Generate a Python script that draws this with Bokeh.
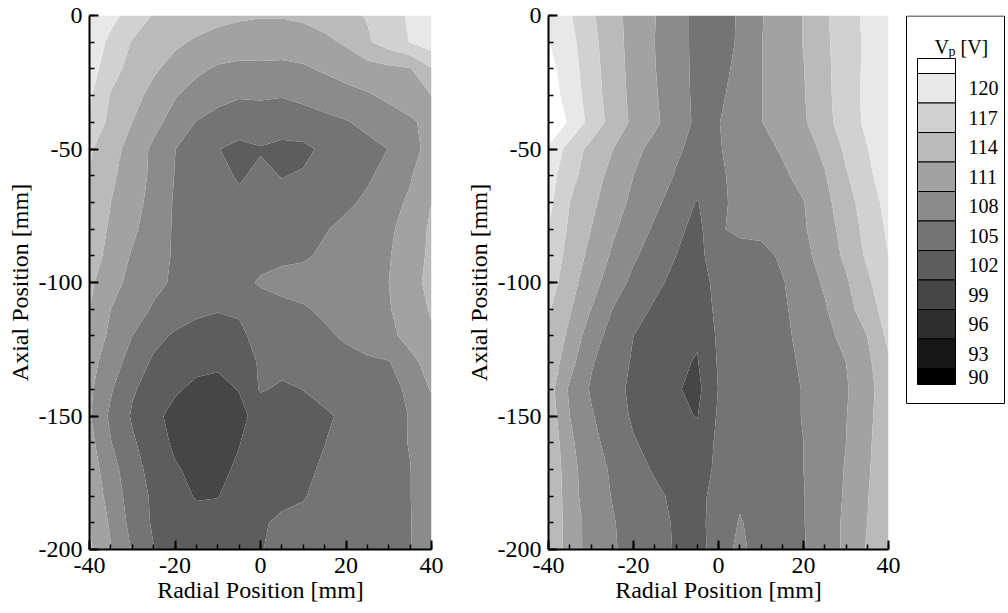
import numpy as np
from bokeh.plotting import figure
from bokeh.layouts import row
from bokeh.models import FixedTicker, Range1d
from bokeh.embed import file_html
from bokeh.resources import INLINE
from bokeh.core.properties import value

# ---------------- data ----------------
radial = [-40, -35, -30, -25, -20, -15, -10, -5, 0, 5, 10, 15, 20, 25, 30, 35, 40]
axial = [0, -10, -20, -30, -40, -50, -60, -70, -80, -90, -100,
         -110, -120, -130, -140, -150, -160, -170, -180, -190, -200]

vp_left = [
    [119.5, 117.9, 115.8, 113.8, 113.2, 112.5, 111.8, 111.4, 111.2, 111.2, 111.5, 112.3, 113.2, 114.2, 115.8, 117.4, 119.0],
    [119.0, 116.3, 113.8, 112.7, 111.5, 110.6, 110.0, 109.6, 109.4, 109.4, 109.7, 110.3, 111.4, 113.6, 115.4, 117.1, 118.5],
    [118.5, 115.1, 113.0, 111.4, 110.0, 108.6, 107.6, 107.3, 107.4, 107.3, 107.6, 108.4, 109.2, 109.8, 110.3, 110.8, 113.8],
    [117.4, 113.8, 112.0, 110.1, 108.2, 106.8, 105.8, 105.2, 105.3, 105.1, 105.5, 106.2, 107.0, 107.7, 108.6, 109.8, 111.0],
    [116.8, 113.0, 111.0, 108.9, 106.8, 104.9, 104.0, 103.6, 103.7, 103.9, 104.0, 104.3, 104.8, 105.7, 106.6, 107.5, 109.0],
    [114.4, 112.2, 109.8, 107.4, 105.05, 103.5, 102.1, 101.2, 101.8, 101.0, 101.3, 102.6, 103.4, 104.2, 105.05, 107.0, 109.0],
    [113.8, 111.5, 109.6, 107.3, 104.9, 103.8, 102.8, 101.7, 102.6, 101.9, 102.3, 103.0, 103.8, 104.6, 106.0, 107.7, 110.4],
    [113.2, 111.0, 109.1, 107.0, 104.7, 103.8, 103.2, 102.6, 102.8, 102.8, 103.1, 103.7, 104.5, 105.5, 106.9, 108.5, 111.0],
    [112.8, 110.6, 108.6, 106.4, 104.7, 104.0, 103.5, 103.2, 103.4, 103.6, 104.0, 104.8, 105.7, 106.6, 107.5, 109.2, 111.5],
    [112.5, 110.0, 107.7, 106.1, 104.7, 104.0, 103.6, 103.6, 104.2, 104.5, 104.6, 105.5, 106.3, 107.1, 107.8, 109.6, 111.6],
    [111.6, 109.1, 107.1, 105.7, 104.6, 104.0, 103.8, 104.2, 105.3, 105.8, 106.2, 106.6, 107.0, 107.5, 108.0, 110.0, 111.8],
    [111.0, 108.0, 106.2, 104.7, 103.6, 102.7, 102.2, 102.3, 103.8, 104.3, 104.7, 105.5, 106.2, 107.0, 107.8, 109.5, 111.3],
    [110.3, 107.3, 105.0, 102.9, 101.6, 100.8, 100.6, 101.5, 102.8, 103.5, 104.0, 104.5, 105.4, 106.4, 107.4, 108.8, 110.6],
    [109.1, 106.4, 103.8, 101.5, 100.3, 99.6, 99.4, 100.2, 102.4, 103.0, 103.5, 103.8, 104.1, 104.5, 104.8, 107.3, 109.0],
    [108.6, 105.3, 102.3, 100.9, 99.3, 98.5, 98.3, 99.1, 102.3, 101.5, 102.05, 102.9, 103.5, 104.0, 104.5, 105.3, 108.3],
    [108.3, 104.4, 101.7, 99.6, 98.3, 97.6, 97.5, 98.3, 100.0, 100.7, 101.0, 101.6, 102.5, 103.4, 104.2, 105.1, 106.5],
    [109.0, 105.1, 102.4, 100.4, 98.5, 97.8, 97.9, 98.9, 100.6, 101.0, 101.4, 101.97, 102.7, 103.5, 104.3, 105.1, 106.5],
    [109.6, 106.2, 103.1, 101.0, 99.3, 98.3, 98.4, 99.4, 100.9, 101.3, 101.7, 102.2, 102.9, 103.6, 104.3, 104.95, 106.5],
    [110.3, 106.8, 103.6, 101.5, 100.0, 98.8, 98.9, 100.2, 101.5, 101.6, 101.9, 102.5, 103.1, 103.7, 104.3, 104.95, 106.5],
    [110.8, 107.6, 104.0, 101.6, 100.6, 99.9, 100.1, 100.9, 101.8, 102.3, 102.4, 102.9, 103.4, 103.9, 104.4, 104.9, 106.5],
    [111.5, 108.1, 104.8, 102.1, 101.2, 100.6, 100.4, 100.9, 101.9, 102.6, 103.0, 103.4, 103.8, 104.2, 104.5, 104.9, 106.3],
]

vp_right = [
    [119.5, 117.3, 114.5, 112.1, 109.9, 108.1, 106.1, 104.3, 103.8, 105.3, 107.8, 109.5, 111.1, 113.6, 115.7, 117.7, 119.6],
    [120.1, 117.9, 115.0, 112.2, 110.0, 108.0, 106.1, 104.3, 103.7, 105.4, 107.9, 109.5, 111.1, 113.5, 115.4, 117.6, 119.7],
    [121.0, 118.4, 115.3, 112.4, 110.1, 108.1, 106.2, 104.3, 104.0, 105.8, 107.9, 109.4, 110.9, 113.4, 115.4, 117.7, 119.8],
    [121.5, 118.8, 115.6, 112.6, 110.2, 108.3, 106.2, 104.4, 104.4, 106.2, 107.9, 109.4, 110.8, 113.2, 115.6, 117.7, 119.8],
    [122.5, 119.6, 116.0, 112.9, 110.4, 108.6, 106.3, 104.5, 104.9, 106.4, 107.9, 109.3, 110.6, 113.0, 115.5, 117.6, 119.7],
    [119.6, 115.8, 113.1, 111.1, 108.9, 107.0, 105.4, 104.2, 104.8, 106.0, 107.1, 108.3, 109.8, 111.6, 114.6, 116.9, 119.2],
    [118.3, 115.0, 112.4, 110.1, 108.0, 106.3, 104.8, 104.0, 104.6, 105.7, 106.6, 107.5, 108.9, 110.8, 113.7, 116.3, 118.8],
    [117.8, 114.0, 111.7, 109.4, 107.3, 105.6, 103.8, 101.8, 104.5, 105.6, 106.4, 107.2, 107.9, 110.1, 112.8, 115.5, 118.0],
    [117.0, 113.5, 111.0, 108.5, 106.5, 104.6, 102.8, 101.0, 104.9, 105.2, 105.8, 106.7, 107.7, 109.6, 112.2, 115.0, 117.5],
    [116.2, 112.9, 110.2, 107.6, 105.4, 103.7, 102.0, 100.8, 104.2, 104.6, 104.0, 105.5, 107.2, 109.2, 111.6, 114.5, 117.0],
    [115.5, 112.2, 109.2, 106.5, 104.3, 102.7, 101.2, 100.5, 103.0, 103.6, 103.9, 104.8, 106.5, 108.4, 110.6, 113.4, 116.4],
    [114.3, 111.3, 108.0, 105.0, 103.2, 101.6, 100.6, 100.0, 102.8, 103.3, 103.8, 104.6, 106.0, 107.7, 110.1, 112.3, 115.7],
    [113.7, 110.3, 106.3, 104.0, 102.0, 101.0, 100.0, 99.3, 102.5, 103.1, 103.7, 104.5, 105.6, 107.1, 108.9, 111.0, 114.7],
    [113.2, 109.0, 105.3, 103.3, 101.7, 100.6, 99.5, 98.8, 102.3, 102.9, 103.6, 104.4, 105.3, 106.6, 108.0, 110.3, 113.6],
    [112.4, 107.5, 104.7, 102.8, 101.5, 100.5, 99.3, 98.2, 102.1, 102.8, 103.5, 104.3, 105.1, 106.5, 107.7, 110.0, 112.8],
    [112.9, 108.0, 105.3, 103.4, 101.6, 100.6, 99.5, 98.9, 102.4, 103.0, 103.6, 104.3, 105.1, 106.5, 107.9, 110.1, 113.3],
    [113.6, 108.6, 105.9, 103.9, 102.2, 101.2, 100.4, 100.0, 102.6, 103.1, 103.6, 104.2, 105.0, 106.5, 108.0, 110.3, 113.6],
    [114.0, 109.0, 106.4, 104.6, 103.1, 101.7, 100.8, 100.5, 102.7, 103.5, 103.7, 104.2, 105.0, 106.5, 108.2, 110.5, 113.9],
    [114.0, 109.3, 106.3, 104.9, 103.7, 102.6, 101.4, 101.0, 103.2, 104.6, 104.0, 104.3, 104.9, 106.6, 108.3, 110.8, 114.0],
    [114.0, 109.5, 106.9, 105.2, 104.0, 102.9, 101.7, 101.2, 103.2, 105.2, 104.0, 104.4, 104.9, 106.6, 108.5, 111.0, 114.0],
    [114.0, 109.4, 107.0, 105.3, 104.1, 102.9, 101.8, 101.0, 103.3, 105.8, 103.6, 104.2, 104.8, 106.6, 108.5, 111.3, 114.0],
]

levels = [80, 90, 93, 96, 99, 102, 105, 108, 111, 114, 117, 120, 130]
band_colors = ["#000000", "#171717", "#2e2e2e", "#464646", "#5d5d5d", "#747474",
               "#8b8b8b", "#a2a2a2", "#bababa", "#d1d1d1", "#e8e8e8", "#ffffff"]
legend_labels = ["120", "117", "114", "111", "108", "105", "102", "99", "96", "93", "90"]

x_major = [-40, -20, 0, 20, 40]
y_major = [0, -50, -100, -150, -200]

FONT = "Liberation Serif"
TOP, BOTTOM = 15, 64


def panel(vp, width, border_left, border_right):
    p = figure(width=width, height=613, x_range=Range1d(-40, 40), y_range=Range1d(-200, 0),
               toolbar_location=None, output_backend="svg",
               min_border_left=border_left, min_border_right=border_right,
               min_border_top=TOP, min_border_bottom=BOTTOM)
    xs = np.array(radial, dtype=float)
    ys = np.array(axial, dtype=float)[::-1]
    zs = np.array(vp, dtype=float)[::-1, :]
    p.contour(x=xs, y=ys, z=zs, levels=levels, fill_color=band_colors, line_color=None)
    p.grid.visible = False
    p.outline_line_color = None
    p.background_fill_color = "white"
    p.border_fill_color = "white"
    p.xaxis.ticker = FixedTicker(ticks=x_major, minor_ticks=list(range(-40, 41, 5)))
    p.yaxis.ticker = FixedTicker(ticks=y_major, minor_ticks=list(range(-200, 1, 10)))
    p.xaxis.major_label_overrides = {v: str(v) for v in x_major}
    p.yaxis.major_label_overrides = {v: str(v) for v in y_major}
    p.xaxis.axis_label = "Radial Position [mm]"
    p.yaxis.axis_label = "Axial Position [mm]"
    for ax in (p.xaxis[0], p.yaxis[0]):
        ax.axis_line_width = 2
        ax.axis_line_color = "black"
        ax.major_tick_in = 9
        ax.major_tick_out = 0
        ax.major_tick_line_width = 2
        ax.minor_tick_in = 5
        ax.minor_tick_out = 0
        ax.minor_tick_line_width = 1.5
        ax.major_label_text_font = FONT
        ax.major_label_text_font_size = "24px"
        ax.major_label_text_color = "black"
        ax.axis_label_text_font = FONT
        ax.axis_label_text_font_size = "24px"
        ax.axis_label_text_font_style = "normal"
        ax.axis_label_text_color = "black"
    p.xaxis.major_label_standoff = 8
    p.xaxis.axis_label_standoff = 1
    p.yaxis.major_label_standoff = 7
    p.yaxis.axis_label_standoff = 3
    return p


p1 = panel(vp_left, 462, 89, 31)
p2 = panel(vp_right, 438, 84, 12)

# ---------------- legend ----------------
p3 = figure(width=108, height=613, x_range=Range1d(900, 1008), y_range=Range1d(613 - BOTTOM, TOP),
            toolbar_location=None, output_backend="svg",
            min_border_left=0, min_border_right=0, min_border_top=TOP, min_border_bottom=BOTTOM,
            x_axis_location=None, y_axis_location=None)
p3.grid.visible = False
p3.outline_line_color = None

box_colors = band_colors[::-1]
heights = [15] + [29.5] * 10 + [16]
tops = [58.0]
for h in heights[:-1]:
    tops.append(tops[-1] + h)
bottoms = [t + h for t, h in zip(tops, heights)]
p3.quad(left=917, right=955, top=tops, bottom=bottoms, fill_color=box_colors,
        line_color="black", line_width=1)
p3.quad(left=906, right=1004, top=15.5, bottom=403, fill_color=None,
        line_color="black", line_width=1)
centers = [(t + b) / 2 for t, b in zip(tops[1:], bottoms[1:])]
p3.text(x=[968] * len(legend_labels), y=centers, text=legend_labels,
        text_baseline="middle", text_align="left",
        text_font=value(FONT), text_font_size="20px", text_color="black")
p3.text(x=[934], y=[46], text=["V"], text_baseline="alphabetic",
        text_font=value(FONT), text_font_size="20px", text_color="black")
p3.text(x=[948], y=[51], text=["p"], text_baseline="alphabetic",
        text_font=value(FONT), text_font_size="14px", text_color="black")
p3.text(x=[960], y=[46], text=["[V]"], text_baseline="alphabetic",
        text_font=value(FONT), text_font_size="20px", text_color="black")

layout = row(p1, p2, p3)
open("out.html", "w").write(file_html(layout, INLINE))
